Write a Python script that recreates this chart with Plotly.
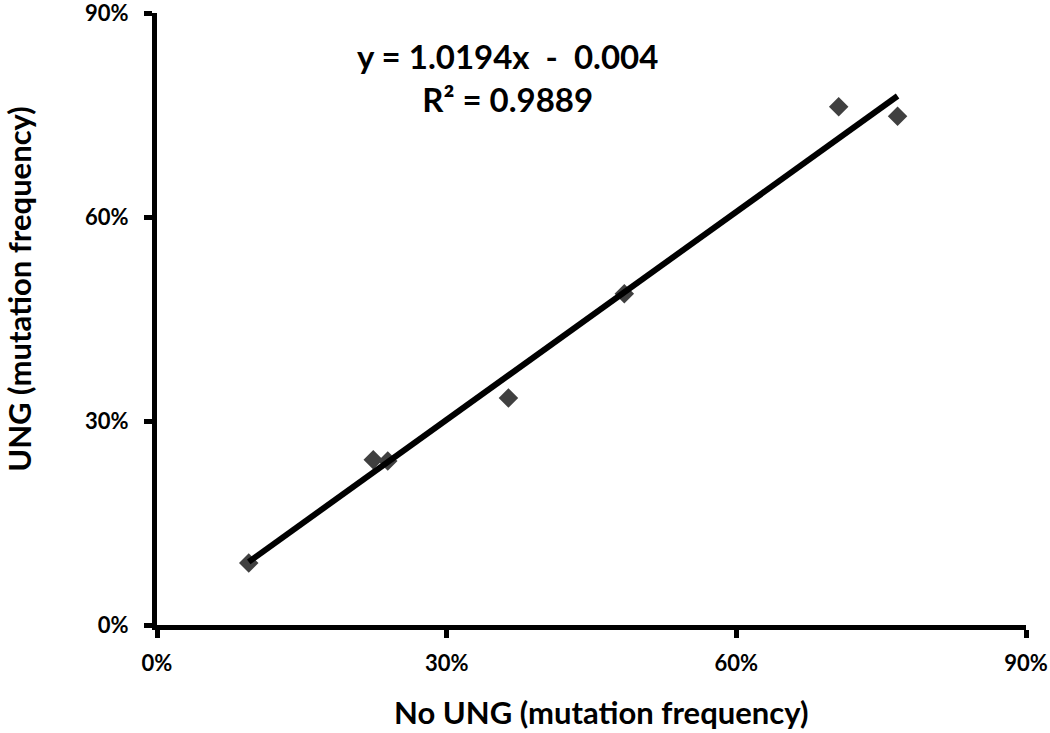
import numpy as np
import plotly.graph_objects as go

# mutation frequency, fraction of reads
no_ung = [0.095, 0.224, 0.239, 0.364, 0.484, 0.706, 0.767]
ung = [0.091, 0.243, 0.241, 0.334, 0.487, 0.762, 0.748]

# linear fit reported on the chart
slope = 1.0194
intercept = -0.004
r_squared = 0.9889

tick_vals = [0, 0.3, 0.6, 0.9]

FONT = "Lato"
INK = "#000000"
MARKER_GRAY = "#404040"

# trend line spans the range of the data
fit_x = np.array([min(no_ung), max(no_ung)])
fit_y = slope * fit_x + intercept

fig = go.Figure()

fig.add_trace(
    go.Scatter(
        x=no_ung,
        y=ung,
        mode="markers",
        marker={"symbol": "diamond", "size": 15, "color": MARKER_GRAY},
        showlegend=False,
        hoverinfo="x+y",
    )
)
fig.add_trace(
    go.Scatter(
        x=fit_x,
        y=fit_y,
        mode="lines",
        line={"color": INK, "width": 6},
        showlegend=False,
        hoverinfo="skip",
    )
)

axis_style = {
    "range": [0, 0.9],
    "tickvals": tick_vals,
    "tickformat": ".0%",
    "showgrid": False,
    "zeroline": False,
    "showline": True,
    "linecolor": INK,
    "linewidth": 5,
    "ticks": "outside",
    "ticklen": 8,
    "tickwidth": 5,
    "tickcolor": INK,
    "automargin": False,
    "ticklabeloverflow": "allow",
    "tickfont": {"family": FONT, "size": 22, "color": INK, "weight": "bold"},
}

fig.update_layout(
    width=1050,
    height=733,
    margin={"l": 157, "r": 24, "t": 13, "b": 108},
    plot_bgcolor="white",
    paper_bgcolor="white",
    font={"family": FONT, "color": INK},
    xaxis={**axis_style, "ticklabelstandoff": 7},
    yaxis={**axis_style, "ticklabelstandoff": 11},
)

# axis titles as annotations: in the original they sit off-centre
fig.add_annotation(
    x=0.511,
    y=-0.142,
    xref="paper",
    yref="paper",
    text="<b>No UNG (mutation frequency)</b>",
    showarrow=False,
    font={"family": FONT, "size": 31, "color": INK},
    xanchor="center",
    yanchor="middle",
)
fig.add_annotation(
    x=-0.159,
    y=0.549,
    xref="paper",
    yref="paper",
    text="<b>UNG (mutation frequency)</b>",
    textangle=-90,
    showarrow=False,
    font={"family": FONT, "size": 31, "color": INK},
    xanchor="center",
    yanchor="middle",
)

fig.add_annotation(
    x=0.363,
    y=0.805,
    xref="x",
    yref="y",
    text=f"<b>y = {slope}x  -  {abs(intercept)}</b><br><b>R² = {r_squared}</b>",
    showarrow=False,
    font={"family": FONT, "size": 33, "color": INK},
    align="center",
)

# page body margin would shift the fixed-size figure off the window
fig.write_html(
    "out.html",
    config={"displayModeBar": False},
    post_script="document.body.style.margin = '0';",
)
